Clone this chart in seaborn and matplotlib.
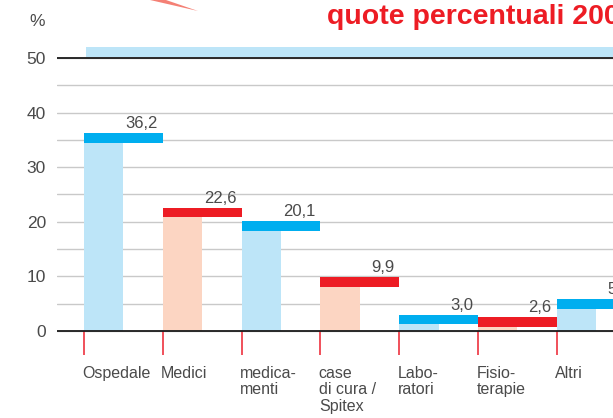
import matplotlib
matplotlib.use("Agg")
import matplotlib.pyplot as plt
import seaborn as sns
import pandas as pd
from matplotlib.patches import Polygon

# ---- data ----
categories = ["Ospedale", "Medici", "medicamenti", "case di cura / Spitex",
              "Laboratori", "Fisioterapie", "Altri"]
labels = ["Ospedale", "Medici", "medica-\nmenti", "case\ndi cura /\nSpitex",
          "Labo-\nratori", "Fisio-\nterapie", "Altri"]
values = [36.2, 22.6, 20.1, 9.9, 3.0, 2.6, 5.8]
value_text = ["36,2", "22,6", "20,1", "9,9", "3,0", "2,6", "5,8"]
yticks = [0, 10, 20, 30, 40, 50]
title = "quote percentuali 2006"

# ---- style ----
sns.set_style("white")
plt.rcParams["font.family"] = ["Liberation Sans", "DejaVu Sans"]

fill_colors = ["#bde5f8", "#fcd5c2"] * 4
cap_colors = ["#00aeef", "#ed1c24"] * 4
cap = 1.8
txt_col = "#4a4a4a"

fig = plt.figure(figsize=(6.13, 4.18), dpi=100)
ax = fig.add_axes([57 / 613, 1 - 355.6 / 418, 1 - 57 / 613, (355.6 - 44.3) / 418])

pos = list(range(len(categories)))
df = pd.DataFrame({
    "cat": categories,
    "xfill": [p + 0.25 for p in pos],
    "fill": [v - cap for v in values],
})

sns.barplot(data=df, x="xfill", y="fill", hue="cat", hue_order=categories,
            palette=fill_colors[:len(categories)], native_scale=True,
            width=0.5, dodge=False, legend=False, ax=ax, zorder=3,
            linewidth=0, saturation=1)

ax.bar([p + 0.5 for p in pos], [cap] * len(values),
       bottom=[v - cap for v in values], width=1.0,
       color=cap_colors[:len(values)], linewidth=0, zorder=4)

# value labels
for p, v, t in zip(pos, values, value_text):
    ax.text(p + 0.935, v + 0.35, t, ha="right", va="bottom",
            fontsize=12, color=txt_col, zorder=5, clip_on=False)

# axes
ax.set_xlim(-0.343, 6.713)
ax.set_ylim(-4.5, 52.5)
ax.set_yticks(list(range(0, 55, 5)))
ax.set_yticklabels([str(t) if t in yticks else "" for t in range(0, 55, 5)],
                   fontsize=12.5, color=txt_col)
ax.tick_params(axis="y", length=0, pad=8)
ax.set_xticks([])
ax.set_xlabel("")
ax.set_ylabel("")
for s in ax.spines.values():
    s.set_visible(False)
ax.yaxis.grid(True, color="#c9c9c9", linewidth=1)
ax.set_axisbelow(True)
ax.axhline(0, color="#1a1a1a", linewidth=1.3, zorder=6)
ax.axhline(50, color="#1a1a1a", linewidth=1.3, zorder=6)

# decorative band above 50
ax.axhspan(50.2, 52.0, xmin=(86 - 57) / 556, xmax=1.0, color="#bde5f8",
           linewidth=0, zorder=2)

# red ticks below axis
ax.vlines(pos, -4.4, 0, color="#f0505a", linewidth=1.4, clip_on=False, zorder=5)

# category labels
for p, lab in zip(pos, labels):
    ax.text(p - 0.02, -6.4, lab, ha="left", va="top", fontsize=11.5,
            color=txt_col, linespacing=1.12, clip_on=False)

# % sign
fig.text(45 / 613, 1 - 22 / 418, "%", ha="right", va="center",
         fontsize=12.5, color=txt_col)

# title
fig.text(327 / 613, 1 - 17 / 418, title, ha="left", va="center",
         fontsize=20.5, fontweight="bold", color="#ed1c24")

# red swoosh decoration
sw = Polygon([(150 / 613, 1.0), (166 / 613, 1.0), (198 / 613, 1 - 11 / 418)],
             closed=True, transform=fig.transFigure, color="#f04a3a",
             alpha=0.7, linewidth=0)
fig.patches.append(sw)

fig.savefig("out.png", dpi=100)
